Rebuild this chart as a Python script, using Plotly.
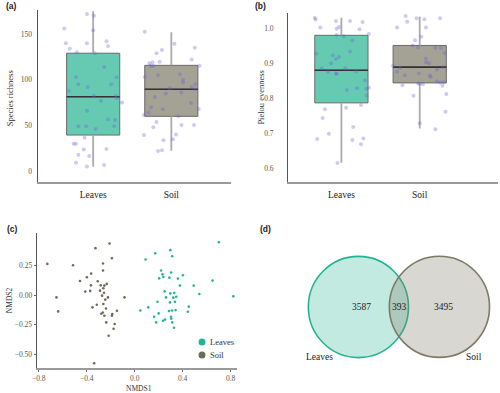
import plotly.graph_objects as go

W, H = 500, 393

# ---------------- data ----------------
groups = ["Leaves", "Soil"]
group_pos = [1, 2]

# (a) species richness: box statistics [Leaves, Soil]
rich_q1 = [39.4, 59.9]
rich_median = [81.4, 89.5]
rich_q3 = [129.0, 115.7]
rich_lower = [4.7, 22.3]
rich_upper = [175.0, 151.9]

rich_leaves = [172, 170, 156, 154, 140, 140, 142, 137, 134, 130, 129, 114, 103, 102.6,
               95, 92, 95, 87.6, 82.5, 82.5, 79.6, 77, 75, 66, 56.6, 55.9, 49, 49, 49,
               46, 36.5, 30, 30, 23.7, 24, 17.9, 16.4, 9, 5, 6.5]
rich_leaves_jit = [-0.08, 0.01, -0.37, 0.0, -0.35, -0.08, 0.17, 0.19, -0.30, -0.21, 0.02,
                   0.14, -0.22, 0.30, -0.19, -0.07, 0.23, -0.31, 0.01, 0.29, 0.30, 0.10,
                   0.37, -0.08, 0.19, 0.28, -0.19, -0.09, 0.27, 0.03, -0.11, -0.25, -0.22,
                   -0.12, 0.17, -0.19, -0.05, -0.22, -0.08, 0.14]
rich_soil = [152.6, 139.4, 135, 132.5, 129, 122, 119.7, 118, 119, 115, 115, 115.3, 106,
             104.8, 100, 97, 103, 95, 92, 91, 85, 86, 89.5, 81, 74.5, 69.8, 67.6, 68, 64,
             61.3, 60, 53.7, 50.4, 50.4, 47.9, 39.4, 40, 33.6, 34.7, 22, 22.7]
rich_soil_jit = [-0.34, 0.04, 0.30, -0.12, -0.19, 0.26, -0.15, -0.28, -0.24, -0.26, -0.23,
                 0.36, 0.11, -0.17, 0.15, 0.15, -0.34, 0.31, 0.26, -0.02, -0.07, 0.13, 0.30,
                 -0.21, 0.25, -0.26, -0.11, 0.35, -0.29, -0.35, 0.09, -0.19, 0.13, 0.29,
                 -0.23, -0.35, 0.06, -0.10, 0.02, -0.17, -0.12]

# (b) Pielou evenness
even_q1 = [0.787, 0.844]
even_median = [0.880, 0.889]
even_q3 = [0.980, 0.951]
even_lower = [0.616, 0.714]
even_upper = [1.030, 1.033]

even_leaves = [1.030, 1.025, 1.021, 1.021, 1.018, 1.004, 1.002, 0.999, 0.997, 0.984, 0.981,
               0.977, 0.965, 0.934, 0.927, 0.923, 0.918, 0.912, 0.900, 0.886, 0.886, 0.875,
               0.871, 0.870, 0.876, 0.851, 0.824, 0.829, 0.830, 0.827, 0.808, 0.781, 0.773,
               0.769, 0.744, 0.718, 0.699, 0.684, 0.685, 0.681, 0.669, 0.615]
even_leaves_jit = [-0.34, -0.33, -0.07, 0.11, 0.27, -0.03, -0.27, -0.06, 0.23, 0.35, -0.06,
                   0.03, 0.14, 0.11, -0.32, -0.11, -0.03, -0.07, -0.13, -0.25, 0.05, -0.17,
                   -0.07, -0.06, 0.19, 0.30, 0.07, 0.20, 0.35, 0.32, 0.32, 0.25, 0.06, -0.21,
                   -0.24, 0.15, -0.16, -0.31, 0.28, 0.14, 0.25, -0.05]
even_soil = [1.035, 1.019, 1.029, 1.026, 1.029, 1.002, 1.002, 0.976, 0.966, 0.951, 0.946,
             0.944, 0.944, 0.929, 0.913, 0.903, 0.900, 0.893, 0.887, 0.890, 0.882, 0.876,
             0.871, 0.866, 0.865, 0.861, 0.849, 0.845, 0.836, 0.846, 0.842, 0.842, 0.840,
             0.837, 0.812, 0.807, 0.762, 0.729, 0.712]
even_soil_jit = [-0.18, -0.16, -0.04, 0.06, 0.26, -0.29, 0.08, 0.02, -0.06, -0.09, -0.02,
                 0.20, 0.27, 0.32, 0.08, 0.08, 0.12, -0.34, -0.25, 0.30, 0.22, -0.29, -0.01,
                 -0.19, 0.13, 0.14, 0.22, 0.26, 0.29, 0.31, -0.02, 0.0, 0.04, -0.22, 0.34,
                 -0.08, 0.33, 0.0, 0.20]

# (c) NMDS
nmds_leaves_x = [0.701, 0.297, 0.171, 0.313, 0.091, 0.220, 0.303, 0.231, 0.402, 0.204, 0.239,
                 0.289, 0.360, 0.649, 0.377, 0.492, 0.250, 0.297, 0.330, 0.539, 0.822, 0.261,
                 0.322, 0.346, 0.190, 0.294, 0.335, 0.451, 0.113, 0.047, 0.286, 0.311, 0.341,
                 0.443, 0.200, 0.162, 0.303, 0.305, 0.253, 0.237, 0.179, 0.313, 0.327]
nmds_leaves_y = [0.447, 0.380, 0.354, 0.329, 0.301, 0.208, 0.191, 0.176, 0.168, 0.142, 0.154,
                 0.148, 0.140, 0.123, 0.081, 0.081, 0.032, 0.015, 0.019, 0.010, -0.010, -0.019,
                 -0.021, -0.013, -0.055, -0.061, -0.055, -0.097, -0.103, -0.129, -0.134, -0.129,
                 -0.126, -0.140, -0.154, -0.182, -0.182, -0.199, -0.205, -0.216, -0.230, -0.230,
                 -0.275]
nmds_soil_x = [-0.21, -0.327, -0.19, -0.728, -0.514, -0.264, -0.264, -0.363, -0.398, -0.456,
               -0.308, -0.365, -0.283, -0.253, -0.233, -0.261, -0.289, -0.371, -0.412, -0.256,
               -0.652, -0.223, -0.085, -0.272, -0.245, -0.316, -0.261, -0.352, -0.638, -0.239,
               -0.148, -0.266, -0.278, -0.187, -0.190, -0.253, -0.237, -0.167, -0.176, -0.217,
               -0.338]
nmds_soil_y = [0.436, 0.397, 0.312, 0.264, 0.253, 0.267, 0.208, 0.182, 0.151, 0.120, 0.117,
               0.083, 0.083, 0.081, 0.095, 0.058, 0.038, 0.036, 0.030, 0.021, -0.019, -0.019,
               -0.019, -0.004, -0.038, -0.081, -0.075, -0.103, -0.137, -0.112, -0.131, -0.146,
               -0.157, -0.159, -0.174, -0.174, -0.230, -0.244, -0.284, -0.343, -0.575]

# (d) Venn counts: leaves only, shared, soil only
venn_counts = [3587, 393, 3495]

# ---------------- styles ----------------
TEAL = "#25B393"
SOIL = "#7E7A67"
SOIL_PT = "#6F6B5A"
BOX_FILL = ["rgba(37,179,147,0.7)", "rgba(126,122,103,0.7)"]
PT = "rgba(105,95,215,0.33)"
SERIF = "Liberation Serif"
BOX_W = 0.68


def px(x):
    return x / W


def py(y):
    return 1 - y / H


fig = go.Figure()


def add_boxpanel(xa, ya, q1, med, q3, lo, hi, vals, jits):
    for i, g in enumerate(groups):
        c = group_pos[i]
        # whiskers (lower and upper segments, drawn outside the box)
        fig.add_trace(go.Scatter(x=[c, c, None, c, c], y=[lo[i], q1[i], None, q3[i], hi[i]],
                                 mode="lines", line=dict(color="#ababab", width=1.8),
                                 xaxis=xa, yaxis=ya, showlegend=False, hoverinfo="skip"))
        fig.add_trace(go.Box(x=[c], q1=[q1[i]], median=[med[i]], q3=[q3[i]],
                             lowerfence=[q1[i]], upperfence=[q3[i]], width=BOX_W,
                             fillcolor=BOX_FILL[i], line=dict(color="#6a6a6a", width=1),
                             whiskerwidth=0, boxpoints=False, xaxis=xa, yaxis=ya,
                             showlegend=False, hoverinfo="skip"))
        fig.add_trace(go.Scatter(x=[c - BOX_W / 2, c + BOX_W / 2], y=[med[i], med[i]],
                                 mode="lines", line=dict(color="#333333", width=1.6),
                                 xaxis=xa, yaxis=ya, showlegend=False, hoverinfo="skip"))
        fig.add_trace(go.Scatter(x=[c + j for j in jits[i]], y=vals[i], mode="markers",
                                 marker=dict(color=PT, size=4, line=dict(width=0)),
                                 xaxis=xa, yaxis=ya, showlegend=False, hoverinfo="skip"))


add_boxpanel("x", "y", rich_q1, rich_median, rich_q3, rich_lower, rich_upper,
             [rich_leaves, rich_soil], [rich_leaves_jit, rich_soil_jit])
add_boxpanel("x2", "y2", even_q1, even_median, even_q3, even_lower, even_upper,
             [even_leaves, even_soil], [even_leaves_jit, even_soil_jit])

fig.add_trace(go.Scatter(x=nmds_leaves_x, y=nmds_leaves_y, mode="markers", name="Leaves",
                         marker=dict(color=TEAL, size=2.6), xaxis="x3", yaxis="y3",
                         showlegend=False))
fig.add_trace(go.Scatter(x=nmds_soil_x, y=nmds_soil_y, mode="markers", name="Soil",
                         marker=dict(color=SOIL_PT, size=2.6), xaxis="x3", yaxis="y3",
                         showlegend=False))

xline = dict(showgrid=False, zeroline=False, showline=True, linecolor="#9a9a9a",
             linewidth=1.8, mirror=False)
yline = dict(showgrid=False, zeroline=False, showline=True, linecolor="#555555",
             linewidth=1.1, mirror=False)

tickfont = dict(family=SERIF, size=7.5, color="#5a574c")
catfont = dict(family=SERIF, size=9.5, color="#222222")

fig.update_layout(
    width=W, height=H, margin=dict(l=0, r=0, t=0, b=0),
    paper_bgcolor="white", plot_bgcolor="white",
    xaxis=dict(domain=[px(33), px(228)], range=[0.29, 2.76], anchor="y",
               tickvals=group_pos, ticktext=groups, ticks="", tickfont=catfont,
               ticklabelstandoff=3, **xline),
    yaxis=dict(domain=[py(182), py(10)], range=[-12, 176.3], anchor="x",
               tickvals=[0, 50, 100, 150], ticks="", tickfont=tickfont,
               ticklabelstandoff=3, **yline),
    xaxis2=dict(domain=[px(286), px(498)], range=[0.32, 3.0], anchor="y2",
                tickvals=group_pos, ticktext=groups, ticks="", tickfont=catfont,
                ticklabelstandoff=3, **xline),
    yaxis2=dict(domain=[py(182), py(13)], range=[0.561, 1.0437], anchor="x2",
                tickvals=[0.6, 0.7, 0.8, 0.9, 1.0], tickformat=".1f", ticks="",
                tickfont=tickfont, ticklabelstandoff=12, **yline),
    xaxis3=dict(domain=[px(32), px(234)], range=[-0.817, 0.85], anchor="y3",
                tickvals=[-0.8, -0.4, 0.0, 0.4, 0.8], tickformat=".1f", ticks="outside",
                ticklen=2, tickcolor="#6b6b6b", tickfont=tickfont, **xline),
    yaxis3=dict(domain=[py(368), py(233)], range=[-0.615, 0.525], anchor="x3",
                tickvals=[-0.5, -0.25, 0.0, 0.25], tickformat=".2f", ticks="outside",
                ticklen=2, tickcolor="#6b6b6b", tickfont=tickfont, **yline),
    xaxis4=dict(domain=[0.5, 1.0], range=[0, 250], visible=False, anchor="y4"),
    yaxis4=dict(domain=[0, py(200)], range=[193, 0], visible=False, anchor="x4"),
    showlegend=False,
)

# legend keys for panel (c)
legend_items = [(groups[0], TEAL, 342), (groups[1], SOIL_PT, 355)]
for name, col, ly in legend_items:
    fig.add_shape(type="circle", xref="paper", yref="paper", x0=px(195.5), x1=px(202.5),
                  y0=py(ly + 3.5), y1=py(ly - 3.5), fillcolor=col, line=dict(width=0))
    fig.add_annotation(x=px(205), y=py(ly), xref="paper", yref="paper", text=name,
                       showarrow=False, xanchor="left", yanchor="middle",
                       font=dict(family=SERIF, size=8.5, color="#333333"))

# Venn diagram circles (layout geometry in panel-pixel units)
venn_r = 50.6
venn_centers = [(107, 107), (188.8, 106.8)]
venn_fill = ["rgba(37,179,147,0.28)", "rgba(126,122,103,0.30)"]
venn_line = [TEAL, SOIL]
for (cx, cy), fc, lc in zip(venn_centers, venn_fill, venn_line):
    fig.add_shape(type="circle", xref="x4", yref="y4", x0=cx - venn_r, x1=cx + venn_r,
                  y0=cy - venn_r, y1=cy + venn_r, fillcolor=fc, line=dict(color=lc, width=1.6))

venn_label_x = [110, 148.7, 192.7]
for cnt, lx in zip(venn_counts, venn_label_x):
    fig.add_annotation(x=lx, y=107.3, xref="x4", yref="y4", text=str(cnt), showarrow=False,
                       font=dict(family=SERIF, size=9.5, color="#222222"))
fig.add_annotation(x=67.7, y=156.7, xref="x4", yref="y4", text=groups[0], showarrow=False,
                   font=dict(family=SERIF, size=9.5, color="#222222"))
fig.add_annotation(x=224, y=156.7, xref="x4", yref="y4", text=groups[1], showarrow=False,
                   font=dict(family=SERIF, size=9.5, color="#222222"))

# panel letters
for lab, x, y in [("(a)", 7, 6), ("(b)", 258, 6), ("(c)", 7.5, 228.7), ("(d)", 263.5, 228.7)]:
    fig.add_annotation(x=px(x), y=py(y), xref="paper", yref="paper", text="<b>%s</b>" % lab,
                       showarrow=False, xanchor="center", yanchor="middle",
                       font=dict(family="Liberation Sans", size=8.5, color="#222222"))

# axis titles
titles = [("Species richness", 5, 98.3, -90, 8.5), ("Pielou evenness", 258.5, 96.7, -90, 8.5),
          ("NMDS2", 4.5, 299.7, -90, 7.5), ("NMDS1", 135, 388, 0, 7.5)]
for t, x, y, ang, fs in titles:
    fig.add_annotation(x=px(x), y=py(y), xref="paper", yref="paper", text=t, textangle=ang,
                       showarrow=False, xanchor="center", yanchor="middle",
                       font=dict(family=SERIF, size=fs, color="#333333"))

fig.write_html("out.html", config={"displayModeBar": False},
               post_script="document.body.style.margin='0px';")
